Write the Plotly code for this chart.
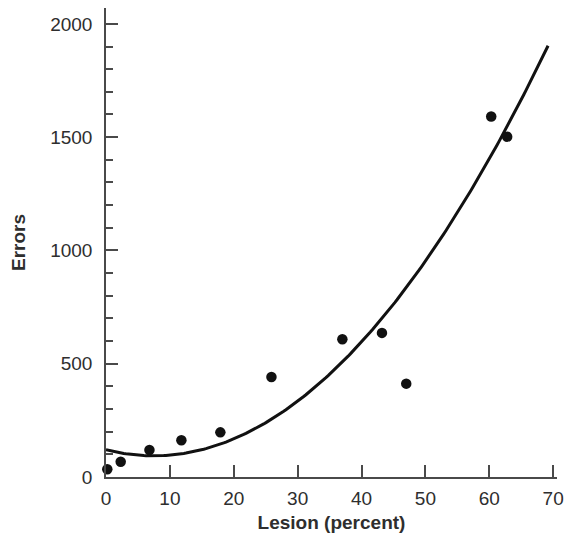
import plotly.graph_objects as go
import numpy as np

# Data
lesion_pct = [0.2, 2.3, 6.8, 11.8, 17.9, 25.9, 37.0, 43.2, 47.0, 60.3, 62.8]
errors = [34, 67, 119, 162, 197, 441, 608, 636, 412, 1591, 1502]

# Quadratic fit curve coefficients (a*x^2 + b*x + c)
fit_coeffs = [0.475, -7.1, 120]
fit_x_range = [0, 69.2]

x_ticks = [0, 10, 20, 30, 40, 50, 60, 70]
y_ticks = [0, 500, 1000, 1500, 2000]

fx = np.linspace(fit_x_range[0], fit_x_range[1], 200)
fy = np.polyval(fit_coeffs, fx)

fig = go.Figure()
fig.add_trace(go.Scatter(x=fx, y=fy, mode="lines",
                         line=dict(color="#111111", width=3),
                         cliponaxis=False, hoverinfo="skip"))
fig.add_trace(go.Scatter(x=lesion_pct, y=errors, mode="markers",
                         marker=dict(color="#111111", size=10.5),
                         cliponaxis=False))

font_family = "Liberation Sans, Arial, Helvetica, sans-serif"
axis_color = "#4a4a4a"

fig.update_layout(
    width=565, height=541,
    margin=dict(l=106, r=8, t=8, b=64),
    plot_bgcolor="white", paper_bgcolor="white",
    showlegend=False,
    font=dict(family=font_family, size=19, color="#2e2e2e"),
)
fig.update_xaxes(
    range=[0, 70.6], tickvals=x_ticks, ticktext=[str(v) for v in x_ticks],
    automargin=False, ticklabeloverflow="allow",
    showgrid=False, zeroline=False, showline=True, linecolor=axis_color, linewidth=1.5,
    ticks="inside", ticklen=12, tickwidth=1.5, tickcolor=axis_color,
    ticklabelstandoff=3,
    title=dict(text="<b>Lesion (percent)</b>", font=dict(size=19, color="#2e2e2e"), standoff=8),
)
fig.update_yaxes(
    range=[0, 2070], tickvals=y_ticks, ticktext=[str(v) for v in y_ticks],
    automargin=False, ticklabeloverflow="allow",
    showgrid=False, zeroline=False, showline=True, linecolor=axis_color, linewidth=1.5,
    ticks="inside", ticklen=12, tickwidth=1.5, tickcolor=axis_color,
    minor=dict(tickvals=[v for v in range(100, 2001, 100) if v % 500 != 0],
               ticks="inside", ticklen=7, tickwidth=1.5, tickcolor=axis_color),
    ticklabelstandoff=8,
    title=dict(text="<b>Errors</b>", font=dict(size=19, color="#2e2e2e"), standoff=20),
)

fig.write_html("out.html")
